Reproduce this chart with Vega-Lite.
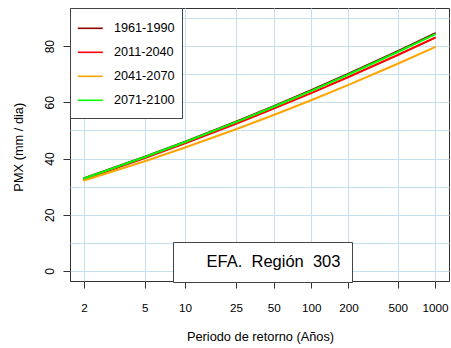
{
  "$schema": "https://vega.github.io/schema/vega-lite/v6.json",
  "autosize": "none",
  "width": 379,
  "height": 273,
  "padding": {"left": 70, "top": 8, "right": 2, "bottom": 67},
  "background": "white",
  "config": {
    "view": {"stroke": "#333333", "strokeWidth": 1},
    "font": "Liberation Sans"
  },
  "datasets": {
    "curvas": [
      {"periodo": "1961-1990", "T": 2, "u": 0.366513, "pmx": 33.0},
      {"periodo": "1961-1990", "T": 5, "u": 1.49994, "pmx": 40.64},
      {"periodo": "1961-1990", "T": 10, "u": 2.250367, "pmx": 46.0},
      {"periodo": "1961-1990", "T": 25, "u": 3.198534, "pmx": 53.11},
      {"periodo": "1961-1990", "T": 50, "u": 3.901939, "pmx": 58.63},
      {"periodo": "1961-1990", "T": 100, "u": 4.600149, "pmx": 64.32},
      {"periodo": "1961-1990", "T": 200, "u": 5.295812, "pmx": 70.2},
      {"periodo": "1961-1990", "T": 500, "u": 6.213607, "pmx": 78.27},
      {"periodo": "1961-1990", "T": 1000, "u": 6.907255, "pmx": 84.6},
      {"periodo": "2011-2040", "T": 2, "u": 0.366513, "pmx": 32.6},
      {"periodo": "2011-2040", "T": 5, "u": 1.49994, "pmx": 40.13},
      {"periodo": "2011-2040", "T": 10, "u": 2.250367, "pmx": 45.39},
      {"periodo": "2011-2040", "T": 25, "u": 3.198534, "pmx": 52.36},
      {"periodo": "2011-2040", "T": 50, "u": 3.901939, "pmx": 57.75},
      {"periodo": "2011-2040", "T": 100, "u": 4.600149, "pmx": 63.3},
      {"periodo": "2011-2040", "T": 200, "u": 5.295812, "pmx": 69.03},
      {"periodo": "2011-2040", "T": 500, "u": 6.213607, "pmx": 76.86},
      {"periodo": "2011-2040", "T": 1000, "u": 6.907255, "pmx": 83.01},
      {"periodo": "2041-2070", "T": 2, "u": 0.366513, "pmx": 32.2},
      {"periodo": "2041-2070", "T": 5, "u": 1.49994, "pmx": 39.06},
      {"periodo": "2041-2070", "T": 10, "u": 2.250367, "pmx": 43.92},
      {"periodo": "2041-2070", "T": 25, "u": 3.198534, "pmx": 50.42},
      {"periodo": "2041-2070", "T": 50, "u": 3.901939, "pmx": 55.5},
      {"periodo": "2041-2070", "T": 100, "u": 4.600149, "pmx": 60.76},
      {"periodo": "2041-2070", "T": 200, "u": 5.295812, "pmx": 66.22},
      {"periodo": "2041-2070", "T": 500, "u": 6.213607, "pmx": 73.76},
      {"periodo": "2041-2070", "T": 1000, "u": 6.907255, "pmx": 79.7},
      {"periodo": "2071-2100", "T": 2, "u": 0.366513, "pmx": 32.9},
      {"periodo": "2071-2100", "T": 5, "u": 1.49994, "pmx": 40.53},
      {"periodo": "2071-2100", "T": 10, "u": 2.250367, "pmx": 45.87},
      {"periodo": "2071-2100", "T": 25, "u": 3.198534, "pmx": 52.95},
      {"periodo": "2071-2100", "T": 50, "u": 3.901939, "pmx": 58.44},
      {"periodo": "2071-2100", "T": 100, "u": 4.600149, "pmx": 64.09},
      {"periodo": "2071-2100", "T": 200, "u": 5.295812, "pmx": 69.92},
      {"periodo": "2071-2100", "T": 500, "u": 6.213607, "pmx": 77.93},
      {"periodo": "2071-2100", "T": 1000, "u": 6.907255, "pmx": 84.2}
    ],
    "rotulo": [{"texto": "EFA.\u00a0 Región\u00a0 303"}]
  },
  "layer": [
    {
      "data": {"name": "curvas"},
      "mark": {"type": "line", "strokeWidth": 2, "strokeCap": "round", "strokeJoin": "round"},
      "encoding": {
        "x": {
          "field": "u",
          "type": "quantitative",
          "scale": {"domain": [0.105, 7.169], "nice": false, "zero": false},
          "axis": {
            "values": [0.366513, 1.49994, 2.250367, 3.198534, 3.901939, 4.600149, 5.295812, 6.213607, 6.907255],
            "labelExpr": "format(round(1/(1-exp(-exp(-datum.value)))), 'd')",
            "title": "Periodo de retorno (Años)",
            "grid": true,
            "gridColor": "#c4e1ec",
            "gridWidth": 1,
            "domain": false,
            "tickSize": 7,
            "tickColor": "#333333",
            "labelPadding": 19,
            "labelBaseline": "middle",
            "labelFont": "Liberation Sans",
            "labelFontSize": 11.7,
            "labelColor": "black",
            "labelFlush": false,
            "labelOverlap": false,
            "titleFont": "Liberation Sans",
            "titleFontSize": 12.8,
            "titleFontWeight": "normal",
            "titleColor": "black",
            "titleX": 190,
            "titleY": 55.7,
            "titleAlign": "center",
            "titleBaseline": "middle"
          }
        },
        "y": {
          "field": "pmx",
          "type": "quantitative",
          "scale": {"domain": [-3.6, 93.6], "nice": false, "zero": false},
          "axis": {
            "values": [0, 10, 20, 30, 40, 50, 60, 70, 80, 90],
            "labelExpr": "datum.value % 20 === 0 && datum.value <= 80 ? datum.label : ''",
            "tickOpacity": {"condition": {"test": "datum.value % 20 === 0 && datum.value <= 80", "value": 1}, "value": 0},
            "title": "PMX (mm / dia)",
            "grid": true,
            "gridColor": "#c4e1ec",
            "gridWidth": 1,
            "domain": false,
            "tickSize": 7,
            "tickColor": "#333333",
            "labelAngle": -90,
            "labelAlign": "center",
            "labelBaseline": "middle",
            "labelPadding": 14,
            "labelFont": "Liberation Sans",
            "labelFontSize": 12,
            "labelColor": "black",
            "labelFlush": false,
            "labelOverlap": false,
            "titleFont": "Liberation Sans",
            "titleFontSize": 12.8,
            "titleFontWeight": "normal",
            "titleColor": "black",
            "titleAngle": -90,
            "titleX": -51.7,
            "titleY": 138.7,
            "titleAlign": "center",
            "titleBaseline": "middle"
          }
        },
        "color": {
          "field": "periodo",
          "type": "nominal",
          "scale": {
            "domain": ["1961-1990", "2011-2040", "2041-2070", "2071-2100"],
            "range": ["#8B0000", "#FF0000", "#FFA500", "#00FF00"]
          },
          "legend": {
            "orient": "none",
            "legendX": 0,
            "legendY": 0,
            "title": null,
            "padding": 6.8,
            "strokeColor": "#444444",
            "fillColor": "white",
            "symbolType": "M-1.256,-0.544M-1.256,0.544M-1,0H1",
            "symbolSize": 625,
            "symbolStrokeWidth": 1.6,
            "symbolOffset": 0,
            "labelFont": "Liberation Sans",
            "labelFontSize": 12.7,
            "labelOffset": 10.1,
            "labelColor": "black",
            "rowPadding": 0
          }
        },
        "order": {"field": "u", "type": "quantitative"}
      }
    },
    {
      "data": {"name": "rotulo"},
      "mark": {"type": "point", "opacity": 0},
      "encoding": {
        "shape": {
          "field": "texto",
          "type": "nominal",
          "legend": {
            "orient": "none",
            "legendX": 103,
            "legendY": 234,
            "title": null,
            "padding": 11.25,
            "strokeColor": "#444444",
            "fillColor": "white",
            "symbolType": "circle",
            "symbolSize": 100,
            "symbolStrokeWidth": 0,
            "symbolOpacity": 0,
            "labelFont": "Liberation Sans",
            "labelFontSize": 16.5,
            "labelOffset": 5.8,
            "labelColor": "black"
          }
        }
      }
    }
  ]
}
